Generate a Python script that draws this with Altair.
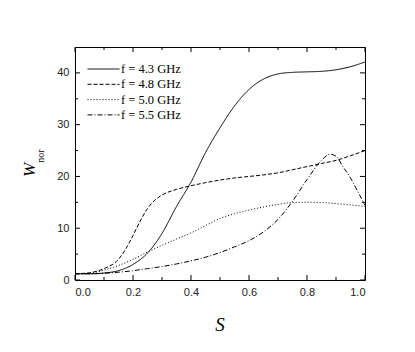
import altair as alt
import pandas as pd

# ---- data ----
s_grid = [0.0, 0.05, 0.1, 0.15, 0.2, 0.25, 0.3, 0.35, 0.4, 0.45, 0.5,
          0.55, 0.6, 0.65, 0.7, 0.75, 0.8, 0.85, 0.9, 0.95, 1.0]
w_43 = [1.2, 1.2, 1.35, 1.8, 3.0, 5.2, 9.0, 14.2, 18.9, 24.6, 29.4,
        33.6, 36.8, 38.8, 39.8, 40.1, 40.2, 40.3, 40.6, 41.2, 42.1]
s_48 = [0.0, 0.05, 0.1, 0.15, 0.175, 0.2, 0.225, 0.25, 0.275, 0.3, 0.35, 0.4, 0.45, 0.5,
        0.55, 0.6, 0.65, 0.7, 0.75, 0.8, 0.85, 0.9, 0.95, 1.0]
w_48 = [1.2, 1.4, 2.2, 4.0, 6.0, 8.6, 11.4, 13.8, 15.4, 16.4, 17.5, 18.2, 18.8, 19.3,
        19.7, 20.0, 20.3, 20.7, 21.3, 21.9, 22.5, 23.1, 24.0, 25.0]
w_50 = [1.2, 1.3, 1.9, 2.8, 4.0, 5.4, 6.7, 7.9, 9.1, 10.5, 11.9,
        12.8, 13.5, 14.1, 14.6, 14.95, 15.0, 14.95, 14.75, 14.5, 14.2]
s_55 = [0.0, 0.05, 0.1, 0.15, 0.2, 0.25, 0.3, 0.35, 0.4, 0.45, 0.5,
        0.55, 0.6, 0.65, 0.7, 0.75, 0.8, 0.85, 0.88, 0.9, 0.925, 0.95, 0.975, 1.0]
w_55 = [1.2, 1.2, 1.3, 1.5, 1.8, 2.2, 2.6, 3.1, 3.7, 4.4, 5.3,
        6.4, 7.6, 9.3, 11.7, 15.2, 19.4, 23.1, 24.3, 23.9, 21.8, 19.7, 17.1, 14.4]

series_labels = ["f = 4.3 GHz", "f = 4.8 GHz", "f = 5.0 GHz", "f = 5.5 GHz"]
series_dashes = [[1, 0], [4, 2], [1, 2], [5, 2, 1, 2]]

x_major = [0.0, 0.2, 0.4, 0.6, 0.8, 1.0]
x_minor = [0.1, 0.3, 0.5, 0.7, 0.9]
y_major = [0, 10, 20, 30, 40]
y_minor = [5, 15, 25, 35]

W, H = 290, 233

rows = []
for lab, xs_, ys_ in zip(series_labels, [s_grid, s_48, s_grid, s_55], [w_43, w_48, w_50, w_55]):
    for s, w in zip(xs_, ys_):
        rows.append({"series": lab, "S": s, "W": w})
df = pd.DataFrame(rows)

xscale = alt.Scale(domain=[0, 1], nice=False, zero=False)
yscale = alt.Scale(domain=[0, 45], nice=False, zero=True)

xaxis = alt.Axis(values=x_major, format=".1f", title=None, ticks=False, domain=False,
                 grid=False, labelFont="Liberation Sans", labelFontSize=11,
                 labelColor="#222", labelPadding=6)
yaxis = alt.Axis(values=y_major, format="d", title=None, ticks=False, domain=False,
                 grid=False, labelFont="Liberation Sans", labelFontSize=11,
                 labelColor="#222", labelPadding=6)

lines = alt.Chart(df).mark_line(color="black", strokeWidth=1, interpolate="monotone").encode(
    x=alt.X("S:Q", scale=xscale, axis=xaxis),
    y=alt.Y("W:Q", scale=yscale, axis=yaxis),
    strokeDash=alt.StrokeDash(
        "series:N",
        sort=series_labels,
        scale=alt.Scale(domain=series_labels, range=series_dashes),
        legend=alt.Legend(
            title=None, orient="none", legendX=12, legendY=15.5, padding=0,
            symbolType="stroke", symbolSize=1024, symbolStrokeWidth=1,
            symbolStrokeColor="black", symbolOffset=0, clipHeight=13,
            rowPadding=2.3, labelOffset=1, labelFont="Liberation Serif",
            labelFontSize=12.5, labelColor="black",
        ),
    ),
)

def xticks(vals, length):
    d = pd.DataFrame({"v": vals})
    bottom = alt.Chart(d).mark_rule(color="black", strokeWidth=1).encode(
        x=alt.X("v:Q", scale=xscale, axis=xaxis), y=alt.value(H), y2=alt.value(H - length))
    top = alt.Chart(d).mark_rule(color="black", strokeWidth=1).encode(
        x=alt.X("v:Q", scale=xscale, axis=xaxis), y=alt.value(0), y2=alt.value(length))
    return [bottom, top]

def yticks(vals, length):
    d = pd.DataFrame({"v": vals})
    left = alt.Chart(d).mark_rule(color="black", strokeWidth=1).encode(
        y=alt.Y("v:Q", scale=yscale, axis=yaxis), x=alt.value(0), x2=alt.value(length))
    right = alt.Chart(d).mark_rule(color="black", strokeWidth=1).encode(
        y=alt.Y("v:Q", scale=yscale, axis=yaxis), x=alt.value(W), x2=alt.value(W - length))
    return [left, right]

one = pd.DataFrame({"a": [0]})
w_title = alt.Chart(one).mark_text(text="W", font="Liberation Serif", fontStyle="italic",
                                   fontSize=17, angle=270, align="center", baseline="middle",
                                   color="black").encode(x=alt.value(-45), y=alt.value(123))
nor_title = alt.Chart(one).mark_text(text="nor", font="Liberation Serif", fontSize=10,
                                     angle=270, align="center", baseline="middle",
                                     color="black").encode(x=alt.value(-34.5), y=alt.value(109))
s_title = alt.Chart(one).mark_text(text="S", font="Liberation Serif", fontStyle="italic",
                                   fontSize=19, align="center", baseline="middle",
                                   color="black").encode(x=alt.value(145), y=alt.value(278))

layers = [lines] + xticks(x_major, 5) + xticks(x_minor, 3) + yticks(y_major, 5) + yticks(y_minor, 3) \
    + [w_title, nor_title, s_title]

chart = alt.layer(*layers).properties(
    width=W, height=H,
    padding={"left": 67, "top": 39, "right": 40, "bottom": 70},
    autosize=alt.AutoSizeParams(type="none"),
).configure_view(stroke="black", strokeWidth=1)

chart.save("out.html", embed_options={"renderer": "svg", "actions": False})
